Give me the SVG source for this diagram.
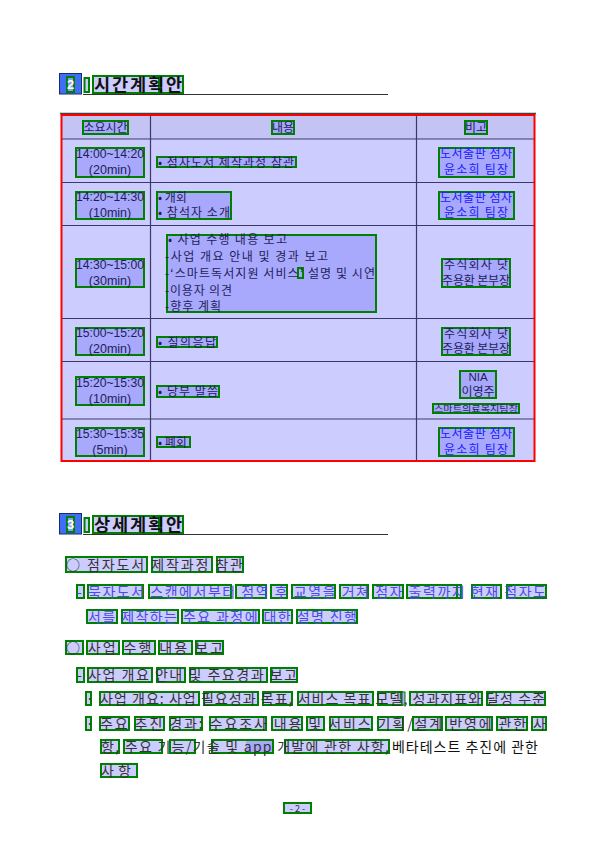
<svg xmlns="http://www.w3.org/2000/svg" width="595" height="842" viewBox="0 0 595 842">
<style>
.hl{fill:#ccccff;stroke:#008000;stroke-width:2}
.hd{fill:#a8a8fc;stroke:#008000;stroke-width:2}
.nb{fill:#8a9cff;stroke:#008000;stroke-width:2}
.k{font-family:"Noto Sans CJK KR","Noto Sans",sans-serif}
.n{font-family:"Liberation Sans","Noto Sans CJK KR",sans-serif}
.ttl{font-family:"Noto Sans CJK KR",sans-serif;font-weight:bold;font-size:17.5px;fill:#111}
.body{font-family:"Noto Sans CJK KR",sans-serif;font-size:14px;fill:#333}
.tb{font-family:"Noto Sans CJK KR",sans-serif;font-size:12px;fill:#1e1e5a}
.rt{font-family:"Noto Sans CJK KR",sans-serif;font-size:12px;fill:#2020ff}
.tm{font-family:"Liberation Sans",sans-serif;font-size:12.5px;fill:#1e1e5a}
.grid{stroke:#3a3a6a;stroke-width:1.2}
</style>
<rect width="595" height="842" fill="#ffffff"/>

<g id="section2-title">
<rect x="59.5" y="73.5" width="22" height="20.5" fill="#3f6ff5" stroke="#1a2a6a" stroke-width="1"/>
<rect x="67" y="77" width="7" height="15" class="nb"/>
<text x="70.5" y="89" class="n" font-size="13" font-weight="bold" fill="#ffffff" text-anchor="middle">2</text>
<rect x="84.5" y="78" width="4.5" height="14" class="hl"/>
<rect x="93" y="76" width="66" height="17" class="hl"/>
<rect x="161" y="76" width="22" height="17" class="hl"/>
<text x="94" y="91" class="ttl" textLength="88" lengthAdjust="spacing">시간계획안</text>
<line x1="83" y1="94.5" x2="388" y2="94.5" stroke="#333" stroke-width="1.2"/>
</g>

<g id="schedule-table">
<line x1="60" y1="113.5" x2="536" y2="113.5" stroke="#444" stroke-width="1.5"/>
<rect x="61" y="115" width="474" height="24" fill="#c4c4f4"/>
<rect x="61" y="139" width="474" height="322" fill="#ccccff"/>
<line x1="61" y1="139" x2="535" y2="139" class="grid"/>
<line x1="61" y1="182.5" x2="535" y2="182.5" class="grid"/>
<line x1="61" y1="225.5" x2="535" y2="225.5" class="grid"/>
<line x1="61" y1="318.5" x2="535" y2="318.5" class="grid"/>
<line x1="61" y1="361.5" x2="535" y2="361.5" class="grid"/>
<line x1="61" y1="419" x2="535" y2="419" class="grid"/>
<line x1="150.5" y1="115" x2="150.5" y2="461" class="grid"/>
<line x1="416.5" y1="115" x2="416.5" y2="461" class="grid"/>
<rect x="61.5" y="115" width="473" height="346" fill="none" stroke="#ff0000" stroke-width="2"/>

<g id="header">
<rect x="83" y="121" width="45" height="13" class="hd"/>
<text x="105.5" y="131.5" class="tb" text-anchor="middle" textLength="44" lengthAdjust="spacing">소요시간</text>
<rect x="272" y="121" width="22" height="13" class="hd"/>
<text x="283" y="131.5" class="tb" text-anchor="middle">내용</text>
<rect x="465" y="121" width="22" height="13" class="hd"/>
<text x="476" y="131.5" class="tb" text-anchor="middle">비고</text>
</g>

<g id="row1">
<rect x="76" y="148" width="68" height="29" class="hd"/>
<text x="110" y="157.5" class="tm" text-anchor="middle" textLength="68" lengthAdjust="spacingAndGlyphs">14:00~14:20</text>
<text x="110" y="174" class="tm" text-anchor="middle">(20min)</text>
<rect x="157" y="157" width="139" height="10" class="hd"/>
<text x="158" y="166.5" class="tb" textLength="136" lengthAdjust="spacing">• 점자도서 제작과정 참관</text>
<rect x="439" y="148" width="75" height="29" class="hd"/>
<text x="476" y="158" class="rt" text-anchor="middle" textLength="72" lengthAdjust="spacing">도서출판 점자</text>
<text x="476" y="174" class="rt" text-anchor="middle" textLength="64" lengthAdjust="spacing">윤소희 팀장</text>
</g>

<g id="row2">
<rect x="76" y="192" width="68" height="27" class="hd"/>
<text x="110" y="201" class="tm" text-anchor="middle" textLength="68" lengthAdjust="spacingAndGlyphs">14:20~14:30</text>
<text x="110" y="217" class="tm" text-anchor="middle">(10min)</text>
<rect x="157" y="192" width="74" height="27" class="hd"/>
<text x="158" y="201.5" class="tb">• 개회</text>
<text x="158" y="217" class="tb" textLength="72" lengthAdjust="spacing">• 참석자 소개</text>
<rect x="439" y="192" width="75" height="27" class="hd"/>
<text x="476" y="201.5" class="rt" text-anchor="middle" textLength="72" lengthAdjust="spacing">도서출판 점자</text>
<text x="476" y="217" class="rt" text-anchor="middle" textLength="64" lengthAdjust="spacing">윤소희 팀장</text>
</g>

<g id="row3">
<rect x="76" y="259" width="68" height="28" class="hd"/>
<text x="110" y="268.5" class="tm" text-anchor="middle" textLength="68" lengthAdjust="spacingAndGlyphs">14:30~15:00</text>
<text x="110" y="284.5" class="tm" text-anchor="middle">(30min)</text>
<rect x="167" y="235" width="209" height="77" class="hd"/>
<rect x="298" y="268" width="5" height="10" fill="none" stroke="#008000" stroke-width="2"/>
<text x="168" y="244" class="tb" textLength="119" lengthAdjust="spacing">• 사업 수행 내용 보고</text>
<text x="165" y="260.5" class="tb" textLength="163" lengthAdjust="spacing">-사업 개요 안내 및 경과 보고</text>
<text x="165" y="277.5" class="tb" textLength="210" lengthAdjust="spacing">-‘스마트독서지원 서비스’ 설명 및 시연</text>
<text x="165" y="294.5" class="tb" textLength="67" lengthAdjust="spacing">-이용자 의견</text>
<text x="165" y="310.5" class="tb" textLength="56" lengthAdjust="spacing">-향후 계획</text>
<rect x="442" y="259" width="68" height="28" class="hd"/>
<text x="476" y="268.5" class="tb" text-anchor="middle" textLength="64" lengthAdjust="spacing">주식회사 닷</text>
<text x="476" y="284.5" class="tb" text-anchor="middle" textLength="68" lengthAdjust="spacing">주용환 본부장</text>
</g>

<g id="row4">
<rect x="76" y="328" width="68" height="27" class="hd"/>
<text x="110" y="337" class="tm" text-anchor="middle" textLength="68" lengthAdjust="spacingAndGlyphs">15:00~15:20</text>
<text x="110" y="353" class="tm" text-anchor="middle">(20min)</text>
<rect x="157" y="337" width="60" height="10" class="hd"/>
<text x="158" y="346.5" class="tb" textLength="58" lengthAdjust="spacing">• 질의응답</text>
<rect x="442" y="328" width="68" height="27" class="hd"/>
<text x="476" y="337.5" class="tb" text-anchor="middle" textLength="64" lengthAdjust="spacing">주식회사 닷</text>
<text x="476" y="353" class="tb" text-anchor="middle" textLength="68" lengthAdjust="spacing">주용환 본부장</text>
</g>

<g id="row5">
<rect x="76" y="377" width="68" height="28" class="hd"/>
<text x="110" y="386.5" class="tm" text-anchor="middle" textLength="68" lengthAdjust="spacingAndGlyphs">15:20~15:30</text>
<text x="110" y="402.5" class="tm" text-anchor="middle">(10min)</text>
<rect x="157" y="386" width="62" height="11" class="hd"/>
<text x="158" y="396" class="tb" textLength="60" lengthAdjust="spacing">• 당부 말씀</text>
<rect x="460" y="371" width="36" height="27" class="hd"/>
<text x="478" y="380.5" class="n" font-size="11.5" fill="#1e1e5a" text-anchor="middle">NIA</text>
<text x="478" y="396" class="tb" text-anchor="middle">이영주</text>
<rect x="433" y="404" width="86" height="9" class="hd"/>
<text x="476" y="412" class="k" font-size="9" fill="#1e1e5a" text-anchor="middle" textLength="84" lengthAdjust="spacingAndGlyphs">스마트의료복지팀장</text>
</g>

<g id="row6">
<rect x="76" y="428" width="68" height="28" class="hd"/>
<text x="110" y="437.5" class="tm" text-anchor="middle" textLength="68" lengthAdjust="spacingAndGlyphs">15:30~15:35</text>
<text x="110" y="453.5" class="tm" text-anchor="middle">(5min)</text>
<rect x="157" y="437" width="33" height="10" class="hd"/>
<text x="158" y="446.5" class="tb">• 폐회</text>
<rect x="439" y="428" width="75" height="28" class="hd"/>
<text x="476" y="438" class="rt" text-anchor="middle" textLength="72" lengthAdjust="spacing">도서출판 점자</text>
<text x="476" y="453.5" class="rt" text-anchor="middle" textLength="64" lengthAdjust="spacing">윤소희 팀장</text>
</g>
</g>

<g id="section3-title">
<rect x="59.5" y="513.5" width="22" height="20.5" fill="#3f6ff5" stroke="#1a2a6a" stroke-width="1"/>
<rect x="67" y="517" width="7" height="15" class="nb"/>
<text x="70.5" y="529" class="n" font-size="13" font-weight="bold" fill="#ffffff" text-anchor="middle">3</text>
<rect x="84.5" y="518" width="4.5" height="14" class="hl"/>
<rect x="93" y="516" width="66" height="17" class="hl"/>
<rect x="161" y="516" width="22" height="17" class="hl"/>
<text x="94" y="531" class="ttl" textLength="88" lengthAdjust="spacing">상세계획안</text>
<line x1="83" y1="534.5" x2="388" y2="534.5" stroke="#333" stroke-width="1.2"/>
</g>

<g id="item-tour">
<rect x="66" y="557" width="81" height="15" class="hl"/>
<rect x="152" y="557" width="60" height="15" class="hl"/>
<rect x="217" y="557" width="26" height="15" class="hl"/>
<text x="66" y="569.5" class="body" textLength="177" lengthAdjust="spacing">○ 점자도서 제작과정 참관</text>
<rect x="77" y="585" width="7" height="13" class="hl"/>
<rect x="88" y="585" width="55" height="13" class="hl"/>
<rect x="149" y="585" width="82" height="13" class="hl"/>
<rect x="236" y="585" width="30" height="13" class="hl"/>
<rect x="271" y="585" width="16" height="13" class="hl"/>
<rect x="292" y="585" width="43" height="13" class="hl"/>
<rect x="340" y="585" width="28" height="13" class="hl"/>
<rect x="373" y="585" width="30" height="13" class="hl"/>
<rect x="407" y="585" width="50" height="13" class="hl"/>
<rect x="457" y="585" width="4" height="13" class="hl"/>
<rect x="472" y="585" width="29" height="13" class="hl"/>
<rect x="507" y="585" width="39" height="13" class="hl"/>
<text x="77" y="597" class="body" style="fill:#4a4ae6" textLength="469" lengthAdjust="spacing">- 묵자도서 스캔에서부터 점역 후 교열을 거쳐 점자 출력까지 현재 점자도</text>
<rect x="87" y="610" width="30" height="13" class="hl"/>
<rect x="122" y="610" width="56" height="13" class="hl"/>
<rect x="182" y="610" width="77" height="13" class="hl"/>
<rect x="263" y="610" width="29" height="13" class="hl"/>
<rect x="297" y="610" width="60" height="13" class="hl"/>
<text x="88" y="621.5" class="body" style="fill:#4a4ae6" textLength="269" lengthAdjust="spacing">서를 제작하는 주요 과정에 대한 설명 진행</text>
</g>

<g id="item-report">
<rect x="66" y="641" width="17" height="13" class="hl"/>
<rect x="87" y="641" width="32" height="13" class="hl"/>
<rect x="123" y="641" width="32" height="13" class="hl"/>
<rect x="159" y="641" width="33" height="13" class="hl"/>
<rect x="196" y="641" width="27" height="13" class="hl"/>
<text x="66" y="652.5" class="body" textLength="157" lengthAdjust="spacing">○ 사업 수행 내용 보고</text>
<rect x="77" y="668" width="7" height="14" class="hl"/>
<rect x="88" y="668" width="64" height="14" class="hl"/>
<rect x="157" y="668" width="28" height="14" class="hl"/>
<rect x="190" y="668" width="77" height="14" class="hl"/>
<rect x="271" y="668" width="26" height="14" class="hl"/>
<text x="77" y="680" class="body" textLength="220" lengthAdjust="spacing">- 사업 개요 안내 및 주요경과 보고</text>
<rect x="86" y="692" width="5" height="13" class="hl"/>
<rect x="100" y="692" width="99" height="13" class="hl"/>
<rect x="204" y="692" width="54" height="13" class="hl"/>
<rect x="263" y="692" width="29" height="13" class="hl"/>
<rect x="298" y="692" width="75" height="13" class="hl"/>
<rect x="378" y="692" width="24" height="13" class="hl"/>
<rect x="402" y="692" width="3" height="13" fill="#a8a8fc" stroke="#008000" stroke-width="1"/>
<rect x="410" y="692" width="72" height="13" class="hl"/>
<rect x="487" y="692" width="58" height="13" class="hl"/>
<text x="86" y="704" class="body">·</text>
<text x="100" y="704" class="body" textLength="445" lengthAdjust="spacing">사업 개요: 사업 필요성과 목표, 서비스 목표 모델, 성과지표와 달성 수준</text>
<rect x="86" y="717" width="5" height="13" class="hl"/>
<rect x="100" y="717" width="29" height="13" class="hl"/>
<rect x="135" y="717" width="29" height="13" class="hl"/>
<rect x="170" y="717" width="32" height="13" class="hl"/>
<rect x="210" y="717" width="56" height="13" class="hl"/>
<rect x="272" y="717" width="30" height="13" class="hl"/>
<rect x="307" y="717" width="17" height="13" class="hl"/>
<rect x="330" y="717" width="42" height="13" class="hl"/>
<rect x="378" y="717" width="25" height="13" class="hl"/>
<rect x="413" y="717" width="29" height="13" class="hl"/>
<rect x="446" y="717" width="46" height="13" class="hl"/>
<rect x="497" y="717" width="30" height="13" class="hl"/>
<rect x="532" y="717" width="14" height="13" class="hl"/>
<text x="86" y="728.5" class="body">·</text>
<text x="100" y="728.5" class="body" textLength="446" lengthAdjust="spacing">주요 추진 경과: 수요조사 내용 및 서비스 기획/설계 반영에 관한 사</text>
<rect x="101" y="740" width="18" height="13" class="hl"/>
<rect x="124" y="740" width="38" height="13" class="hl"/>
<rect x="170" y="740" width="25" height="13" class="hl"/>
<rect x="212" y="740" width="61" height="13" class="hl"/>
<rect x="246" y="741" width="26" height="11" fill="#a8a8fc"/>
<rect x="285" y="740" width="104" height="13" class="hl"/>
<text x="101" y="752" class="body" textLength="288" lengthAdjust="spacing">항, 주요 기능/기술 및 app 개발에 관한 사항,</text>
<text x="392" y="752" class="body" style="fill:#111" textLength="146" lengthAdjust="spacing">베타테스트 추진에 관한</text>
<rect x="101" y="764" width="36" height="13" class="hl"/>
<text x="101" y="776" class="body" textLength="30" lengthAdjust="spacing">사항</text>
</g>

<g id="page-number">
<rect x="284" y="803" width="27" height="10" class="hl"/>
<text x="297.5" y="811.5" class="k" font-size="9" fill="#333" text-anchor="middle">- 2 -</text>
</g>
</svg>
